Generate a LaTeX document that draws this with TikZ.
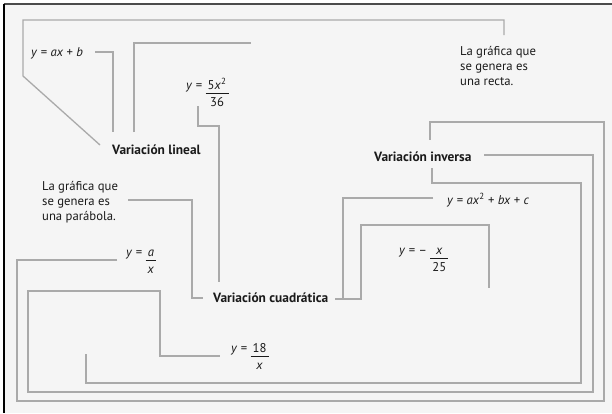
\documentclass[tikz,border=0pt]{standalone}
\usepackage{fontspec}
\setmainfont{PT Sans}

\definecolor{paper}{HTML}{F5F5F5}
\definecolor{wire}{HTML}{AAAAAA}
\definecolor{ink}{HTML}{1A1A1A}

% italic variable, small square and a stacked fraction
\newcommand{\vr}[1]{\textit{#1}}
\newcommand{\sq}{\textsuperscript{2}}
\newcommand{\fr}[2]{\begin{tabular}[t]{@{\,}c@{\,}}#1\\[0pt]\hline\rule{0pt}{12.5pt}#2\end{tabular}}

\tikzset{
  conn/.style={draw=wire, line width=1.3pt},
  eq/.style={text=ink, inner sep=0pt, anchor=base west, font=\fontsize{12.7}{14}\selectfont},
  head/.style={text=ink, inner sep=0pt, anchor=base west, font=\fontsize{13.4}{15}\selectfont\bfseries},
  note/.style={text=ink, inner sep=0pt, anchor=north west, align=left, font=\fontsize{12.7}{15}\selectfont}
}

\begin{document}
\begin{tikzpicture}[x=1pt, y=-1pt]

  \useasboundingbox (0,0) rectangle (612,413);

  % Paper and frame
  \fill[paper] (4,4) rectangle (612,413);
  \draw[line width=1.6pt, black!70] (3.5,4) -- (612,4);
  \draw[line width=1.4pt, black] (4,4) -- (4,413);

  % Headings
  \node[head] (lineal)  at (112,154) {Variación lineal};
  \node[head] (inversa) at (374,161) {Variación inversa};
  \node[head] (cuadra)  at (213,302) {Variación cuadrática};

  % Notes
  \node[note] (recta) at (460,46)  {La gráfica que\\se genera es\\una recta.};
  \node[note] (parab) at (42,181)  {La gráfica que\\se genera es\\una parábola.};

  % Equations
  \node[eq] (axb)   at (31,56)   {\vr{y} = \vr{ax} + \vr{b}};
  \node[eq] (cinco) at (186,89)  {\vr{y} = \fr{5\vr{x}\sq}{36}};
  \node[eq] (gen)   at (447,204) {\vr{y} = \vr{ax}\sq{} + \vr{bx} + \vr{c}};
  \node[eq] (ax)    at (126,256) {\vr{y} = \fr{\vr{a}}{\vr{x}}};
  \node[eq] (negx)  at (399,254) {\vr{y} = – \fr{\vr{x}}{25}};
  \node[eq] (dieci) at (231,352) {\vr{y} = \fr{18}{\vr{x}}};

  % Free ends of the connectors
  \coordinate (lin-a) at (100,145);
  \coordinate (lin-b) at (113,132);
  \coordinate (lin-c) at (134,132);
  \coordinate (rec-a) at (504,35);
  \coordinate (axb-o) at (95,52);
  \coordinate (lin-d) at (251,43);
  \coordinate (cin-o) at (198,106);
  \coordinate (cua-a) at (219,282);
  \coordinate (par-o) at (128,200);
  \coordinate (cua-b) at (203,298);
  \coordinate (ax-o)  at (117,260);
  \coordinate (inv-a) at (430,140);
  \coordinate (inv-b) at (484,155);
  \coordinate (die-o) at (220,356);
  \coordinate (inv-c) at (432,168);
  \coordinate (neg-o) at (86,354);
  \coordinate (gen-o) at (433,198);
  \coordinate (cua-c) at (335,299);
  \coordinate (neg-a) at (489,288);

  % Connectors
  \draw[conn] (lin-a) -- (23,76) -- (23,20) -| (rec-a);
  \draw[conn] (axb-o) -| (lin-b);
  \draw[conn] (lin-c) |- (lin-d);
  \draw[conn] (cin-o) |- (219,126) -- (cua-a);
  \draw[conn] (par-o) -| (192,298) -- (cua-b);
  \draw[conn] (ax-o) -| (17,401) -| (604,122) -| (inv-a);
  \draw[conn] (inv-b) -| (593,392) -| (28,291) -| (160,356) -- (die-o);
  \draw[conn] (inv-c) |- (581,183) |- (86,383) -- (neg-o);
  \draw[conn] (gen-o) -| (343,299) -- (cua-c);
  \draw[conn] (cua-c) -| (361,225) -| (neg-a);

\end{tikzpicture}
\end{document}
